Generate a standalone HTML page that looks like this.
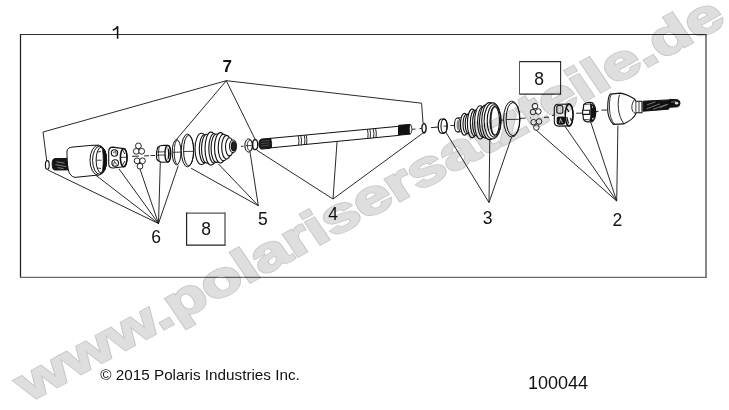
<!DOCTYPE html>
<html><head><meta charset="utf-8">
<style>
html,body{margin:0;padding:0;background:#fff;width:729px;height:410px;overflow:hidden}
svg{display:block}
text{font-family:"Liberation Sans",sans-serif}
</style></head>
<body>
<svg width="729" height="410" viewBox="0 0 729 410">
<!-- watermark -->

<!-- frame -->
<path d="M20,34.5 L706.5,34.5" stroke="#2e2e2e" stroke-width="1.15" fill="none"/>
<path d="M20.5,34 L20.5,277.8" stroke="#1e1e1e" stroke-width="1.25" fill="none"/>
<path d="M706,34 L706,277.8" stroke="#606060" stroke-width="1.5" fill="none"/>
<path d="M20,277.3 L706.7,277.3" stroke="#6a6a6a" stroke-width="1.3" fill="none"/>
<!-- labels -->
<g font-size="17.5" fill="#111">
<path d="M117.6,38.8 L117.6,26.3 C116.6,28.3 114.8,29.6 112.8,30.3" fill="none" stroke="#111" stroke-width="1.55"/>
<text x="222.5" y="72" font-weight="bold" font-size="17">7</text>
<text x="151.3" y="242.6">6</text>
<text x="258" y="225">5</text>
<text x="328.3" y="219.6">4</text>
<text x="482.8" y="223.8">3</text>
<text x="612.5" y="226.3">2</text>
<text x="201.2" y="235">8</text>
<text x="534.3" y="84.6">8</text>
</g>
<path d="M186.6,213.2 L225,213.2" stroke="#555" stroke-width="1.2" fill="none"/><path d="M186.6,212.6 L186.6,245.2 L225.4,245.2" stroke="#222" stroke-width="1.2" fill="none"/><path d="M225,212.6 L225,245.6" stroke="#444" stroke-width="1.2" fill="none"/>
<path d="M519.5,61.6 L560.6,61.6 L560.6,94.1 L519.5,94.1" stroke="#2a2a2a" stroke-width="1.1" fill="none"/><path d="M519.5,61.2 L519.5,94.5" stroke="#555" stroke-width="1" fill="none"/>
<text x="100.3" y="379.8" font-size="14.8" textLength="199.5" lengthAdjust="spacingAndGlyphs" fill="#111">© 2015 Polaris Industries Inc.</text>
<text x="528" y="389.1" font-size="18" fill="#111">100044</text>

<!-- leader lines -->
<g fill="none" stroke="#111" stroke-width="0.9">
<polyline points="46.7,160.3 43,132 226.3,80.7 421.6,103.2 423,123"/>
<line x1="226.3" y1="80.7" x2="176.4" y2="139.5"/>
<line x1="226.3" y1="80.7" x2="255.7" y2="140.5"/>
<!-- 6 -->
<line x1="158.5" y1="223.5" x2="47.7" y2="169.9"/>
<line x1="158.5" y1="223.5" x2="96" y2="175.4"/>
<line x1="158.5" y1="223.5" x2="119" y2="168.8"/>
<line x1="158.5" y1="223.5" x2="139.9" y2="168.8"/>
<line x1="158.5" y1="223.5" x2="160.3" y2="162.2"/>
<line x1="158.5" y1="223.5" x2="178.3" y2="165.5"/>
<!-- 5 -->
<line x1="258.3" y1="205.7" x2="191.1" y2="168.2"/>
<line x1="258.3" y1="205.7" x2="218.4" y2="163.9"/>
<line x1="258.3" y1="205.7" x2="250" y2="152"/>
<!-- 4 -->
<line x1="333" y1="199" x2="256.8" y2="150.2"/>
<line x1="333" y1="199" x2="337.1" y2="141"/>
<line x1="333" y1="199" x2="424.4" y2="132"/>
<!-- 3 -->
<line x1="489" y1="202.5" x2="445.1" y2="131"/>
<line x1="489" y1="202.5" x2="489.8" y2="139.2"/>
<line x1="489" y1="202.5" x2="512.3" y2="135.1"/>
<!-- 2 -->
<line x1="616.7" y1="201" x2="535.6" y2="129.6"/>
<line x1="616.7" y1="201" x2="564.4" y2="125.5"/>
<line x1="616.7" y1="201" x2="590.5" y2="121.4"/>
<line x1="616.7" y1="201" x2="617.9" y2="125.5"/>
</g>

<!-- PARTS -->
<g id="parts" fill="#fff" stroke="#111" stroke-width="1" stroke-linejoin="round">
<!-- centre dashes -->
<g stroke-width="0.9" fill="none">
<path d="M132,156.3 L139,156.1 M144,155.9 L149,155.7 M150.5,155.6 L155,155.5"/>
<path d="M241,146.4 L243.5,146.2"/>
<path d="M411.5,129.3 L415.5,129.1 M419.5,128.6 L421.5,128.5 M431,127.6 L435.5,127.3 M435,127.2 L439,127.1"/>
<path d="M450.4,125.6 L454.5,125.4"/>
<path d="M501,120.2 L504,120 M520,118.4 L525.5,118.1 M530,117.9 L531,117.9 M544,117.4 L549,117.2 M552,115.3 L554.5,115.2"/>
<path d="M576.1,113.3 L582,113.1 M596,111.5 L598.5,111.3 M601.5,110.2 L607.5,110"/>
</g>

<!-- left circlip -->
<ellipse cx="47.3" cy="164.9" rx="1.9" ry="4.3" stroke-width="1.1"/>
<!-- stub shaft -->
<path d="M54.5,158.6 L68.3,158.4 L68.3,169.9 L54.5,170 Q52.2,169.6 52.2,164.3 Q52.2,159 54.5,158.6 Z" fill="#151515"/>
<path d="M56.5,161.8 L64.5,163.2 M55.5,164.6 L66,166.6 M57.5,167.6 L63.5,168.6" stroke="#9a9a9a" stroke-width="0.8" fill="none"/>
<!-- housing left -->
<path d="M68.3,170 C67.3,164 66.9,157 67,151 C67.6,148.4 69.3,147.5 72,147.1 L92,145.3 L98.3,145.2 L98.3,175.2 L96.5,175.2 L75,177.4 C71.5,176.8 69.3,174 68.3,170 Z"/>
<ellipse cx="98.3" cy="160.2" rx="8.3" ry="15"/>
<ellipse cx="99.6" cy="160.2" rx="7" ry="14"/>
<ellipse cx="101.3" cy="160.1" rx="5.2" ry="13"/>
<path d="M101.3,147.1 A5.2,13 0 0 1 101.3,173.1 A1.8,12 0 0 0 101.3,147.1 Z" fill="#111" stroke-width="0.8"/>
<path d="M96.3,160.2 L101.5,160.2 M97.5,152 L101,151.5 M97.5,168 L101,168.5" fill="none" stroke-width="0.8"/>

<!-- cage left -->
<path d="M108.7,151.5 Q108.7,147.1 113,147.1 L123.7,148.6 A3.3,9.1 0 0 1 123.7,166.8 L113,168 Q108.7,168 108.7,163.5 Z" stroke-width="1.1"/>
<ellipse cx="123.7" cy="157.7" rx="3.3" ry="9.1" stroke-width="1.6"/>
<path d="M120.6,157.4 L127,157.2 M122.6,150 L124.8,154 M122.6,165 L124.8,161" fill="none" stroke-width="0.8"/>
<circle cx="114.5" cy="153" r="3.2" stroke-width="1.1"/>
<circle cx="115.2" cy="163.1" r="3.3" stroke-width="1.1"/>
<path d="M113,152.5 L116,151.5 L116,154.5 M113.5,164.5 L114.5,161.5 L116.5,164.5" fill="none" stroke-width="0.8"/>

<!-- balls left -->
<g stroke-width="0.9">
<circle cx="138.4" cy="145.9" r="2.9"/>
<circle cx="136.3" cy="151.3" r="2.9"/>
<circle cx="141.7" cy="151.3" r="2.9"/>
<circle cx="137.1" cy="160.8" r="2.9"/>
<circle cx="142.5" cy="160.8" r="2.9"/>
<circle cx="140" cy="166.2" r="2.9"/>
</g>

<!-- nut left -->
<path d="M157.6,147.5 Q160,145.3 163.5,145.3 L167.8,145.4 A2.8,8.3 0 0 1 167.8,162 L162.5,162.2 Q158.5,162 156.7,159 Q155.6,153.5 157.6,147.5 Z" stroke-width="1.1"/>
<ellipse cx="167.8" cy="153.7" rx="2.8" ry="8.3" fill="#fff" stroke-width="1.3"/>
<path d="M167.5,147 Q170,150 169.8,154 Q169.5,158.5 167.5,160.5 Q168.6,154 167.5,147 Z" fill="#111" stroke="none"/>
<path d="M156.4,152 L165.5,151.8 M156.4,155.2 L165.5,155 M159.2,146.2 Q157.6,153.5 159.2,161.6" fill="none" stroke-width="0.8"/>

<!-- thin ring left -->
<ellipse cx="176.6" cy="152.2" rx="4.4" ry="12.6"/>
<path d="M177.6,139.8 A3.4,12.4 0 0 0 177.6,164.6" fill="none" stroke-width="0.9"/>
<path d="M172.6,152.3 L181,152.1" fill="none" stroke-width="0.8"/>
<!-- clamp ring left -->
<ellipse cx="187.5" cy="150.5" rx="6.2" ry="16.4"/>
<ellipse cx="188.6" cy="150.5" rx="5" ry="15.2" fill="none"/>
<path d="M183.7,151.5 L193.6,151.3" fill="none" stroke-width="0.8"/>

<!-- boot left -->
<g stroke-width="1.1">
<ellipse cx="201.5" cy="148.9" rx="6.5" ry="15.6"/>
<ellipse cx="204.5" cy="148.8" rx="5.2" ry="14"/>
<ellipse cx="207" cy="148.7" rx="5.5" ry="14.4"/>
<ellipse cx="211" cy="148.6" rx="6" ry="16.5"/>
<ellipse cx="214" cy="148.4" rx="5.2" ry="14.6"/>
<ellipse cx="216.5" cy="148.2" rx="5.4" ry="14.2"/>
<ellipse cx="220.5" cy="147.8" rx="6" ry="15.2"/>
<ellipse cx="223.5" cy="147.5" rx="5.3" ry="13.3"/>
<ellipse cx="226.5" cy="147.2" rx="4.8" ry="11.8"/>
<ellipse cx="229.5" cy="146.8" rx="4" ry="9"/>
<ellipse cx="233" cy="146.3" rx="3.4" ry="6.3"/>
<ellipse cx="233.6" cy="146.3" rx="2.2" ry="4.6" fill="#222"/>
</g>
<!-- washer left -->
<ellipse cx="248.7" cy="145.5" rx="3.9" ry="6.6"/>
<ellipse cx="249.8" cy="145.5" rx="2.5" ry="5.3" fill="none" stroke-width="0.8"/>
<path d="M245.5,145.7 L252.3,145.6" fill="none" stroke-width="0.8"/>
<!-- circlip left -->
<ellipse cx="255.2" cy="144.7" rx="2.5" ry="5" fill="none" stroke-width="1.3"/>

<!-- shaft -->
<path d="M270.1,138.4 L398.7,126.3 L398.7,135.4 L271.3,147.8 Z"/>
<path d="M261.5,139.1 L270.6,138.3 L270.6,148.2 L261.5,149.1 Q259,148.8 259,144.1 Q259,139.4 261.5,139.1 Z" fill="#1a1a1a"/>
<path d="M261,141.2 L269.5,140.4 M261,143.6 L269.5,142.8 M261,146 L269.5,145.2" fill="none" stroke="#666" stroke-width="0.6"/>
<path d="M270.6,138.3 Q272.3,143 271.4,147.9" fill="none" stroke-width="0.9"/>
<path d="M298.2,135.8 Q299.5,140 298.6,145 M300.8,135.6 Q302,140 301.2,144.8 M304.2,135.3 Q305.4,139.5 304.6,144.4 M306.2,135.1 Q307.4,139.3 306.6,144.2" fill="none" stroke-width="0.9"/>
<path d="M367.4,129.3 Q368.6,133.5 367.8,138.4 M369.8,129.1 Q371,133.3 370.2,138.2 M373.2,128.8 Q374.4,133 373.6,137.9 M375.6,128.6 Q376.8,132.8 376,137.6" fill="none" stroke-width="0.9"/>
<path d="M398.7,125.3 L410.2,124.4 Q412.2,129.2 410.4,134.1 L398.7,135.2 Z" fill="#111"/>
<ellipse cx="410.6" cy="129.2" rx="1.3" ry="4.3" fill="#fff" stroke-width="0.8"/>

<!-- circlip right -->
<path d="M424,123.3 C421,125 421.3,131.5 424,133.2 C426.5,132 427.2,125 424,123.3 Z" fill="none" stroke-width="1.3"/>

<!-- washer right -->
<path d="M441.5,119 L444,119 A3.3,7.1 0 0 1 444,133.2 L441.5,133.3 A3.3,7.15 0 0 1 441.5,119 Z" stroke-width="1.2"/>
<ellipse cx="444" cy="126.1" rx="3" ry="7" fill="none" stroke-width="1.1"/>
<path d="M443.5,126.2 L447,126.1" fill="none" stroke-width="0.8"/>

<!-- boot right -->
<g stroke-width="1.1">
<path d="M457.5,118 L460.6,117.8 L460.6,131.8 L457.5,132 Z" stroke="none"/>
<path d="M457.5,118 L460.8,117.8 M457.5,132 L460.8,131.8" fill="none"/>
<ellipse cx="457.5" cy="125" rx="3" ry="7"/>
<ellipse cx="458.2" cy="125" rx="1.6" ry="5" fill="#888" stroke="none"/>
<ellipse cx="464.5" cy="124.2" rx="4" ry="11"/>
<ellipse cx="466.5" cy="124" rx="3.5" ry="9.8"/>
<ellipse cx="468.8" cy="123.8" rx="3.6" ry="10.2"/>
<ellipse cx="472.2" cy="123.4" rx="4.8" ry="14.3"/>
<ellipse cx="474.5" cy="123.1" rx="4.2" ry="12.8"/>
<ellipse cx="476.8" cy="122.9" rx="4.2" ry="13"/>
<ellipse cx="480.2" cy="122.4" rx="5.6" ry="16.6"/>
<ellipse cx="482.6" cy="122" rx="5" ry="15"/>
<ellipse cx="485.5" cy="121.6" rx="6" ry="16.5"/>
<ellipse cx="489.5" cy="121.1" rx="7.8" ry="18.5"/>
<ellipse cx="492.6" cy="120.9" rx="8.5" ry="18"/>
<ellipse cx="494" cy="120.9" rx="6.8" ry="16.2" fill="none"/>
<ellipse cx="494.8" cy="120.9" rx="4.7" ry="14.3"/>
<path d="M494.8,106.6 A4.7,14.3 0 0 0 494.8,135.2 A3.2,12.5 0 0 1 494.8,106.6 Z" fill="#333" stroke-width="0.6"/>
</g>

<!-- clamp ring right -->
<ellipse cx="511.8" cy="119.1" rx="8.2" ry="18"/>
<ellipse cx="512.9" cy="119.1" rx="6.8" ry="16.6" fill="none"/>
<path d="M506,119.5 L520,119.3" fill="none" stroke-width="0.8"/>

<!-- balls right -->
<g stroke-width="0.9">
<circle cx="535" cy="106.1" r="2.8"/>
<circle cx="533" cy="112" r="2.8"/>
<circle cx="538.3" cy="111.5" r="2.8"/>
<circle cx="533.6" cy="122.2" r="2.8"/>
<circle cx="539" cy="121.5" r="2.8"/>
<circle cx="536.3" cy="127.5" r="2.8"/>
</g>

<!-- cage right -->
<path d="M554.3,108.5 Q554.3,104.2 558.5,104.2 L569.1,104.1 A3.9,10.9 0 0 1 569.1,125.9 L558.5,126.1 Q554.3,126.1 554.3,121.5 Z" stroke-width="1.1"/>
<ellipse cx="569.1" cy="115" rx="3.9" ry="10.9" stroke-width="1.6"/>
<path d="M566.5,108 L569,112 M566.8,117 L568.5,123.5 M570.5,118 L571.5,121" fill="none" stroke-width="1.2"/>
<rect x="556.8" y="105.6" width="6" height="7.6" rx="1.5" stroke-width="1.1"/>
<rect x="557.2" y="117.1" width="7.4" height="7" rx="1.5" fill="#111" stroke-width="1.1"/>
<path d="M558.5,107.5 L558.5,111.5 M561,107 L560.5,112 M559.5,123 L560.5,118.5 L562.5,123" fill="none" stroke="#ccc" stroke-width="0.8"/>

<!-- nut right -->
<path d="M583.8,104.5 Q585.5,102.5 588.5,102.4 L592,102.5 Q595.5,105 595.7,112 Q595.5,119 592.5,121.6 L587.5,121.8 Q584.5,121.6 583.3,118.8 Q582.3,111.5 583.8,104.5 Z" stroke-width="1.2"/>
<path d="M590,103.5 Q593.5,104 595,108 L595.8,112 Q595.6,118 592.5,121 L589.8,121 Q591.2,116 590.8,112 Q591,107 590,103.5 Z" fill="#111" stroke-width="0.8"/>
<path d="M591.8,105 L593,107.5 L592.2,108.2 Z M592,118.5 L593.8,117.5 L593,120 Z" fill="#fff" stroke="none"/>
<rect x="582.6" y="110.3" width="7.2" height="4.1" stroke-width="1.1"/>
<path d="M584.5,104.5 L589.5,104 M584.5,119.5 L589.5,119.8" fill="none" stroke-width="0.8"/>

<!-- housing right -->
<path d="M610.2,94.1 L620.5,93.1 C625,94 631,96.5 634.8,99.3 L635.9,101.3 L642,101.2 L642,112.6 L635.9,112.7 L635.9,113.6 C634.5,117 630,121 623.6,123.9 L613.3,124.4 C609.5,120 607.5,114 607.7,108.5 C607.7,101 608.5,96 610.2,94.1 Z" stroke-width="1.1"/>
<path d="M611.2,94.5 C609.5,98 609.3,104 609.5,109 C609.7,115 611.5,121 614.5,124.2" fill="none" stroke-width="0.8"/>
<path d="M619.5,94.7 C617.3,102 617.3,115 624,123.9" fill="none" stroke-width="0.9"/>
<path d="M634.8,99.3 C630.8,104 630.5,112 635.9,113.6" fill="none" stroke-width="0.9"/>
<path d="M635.9,101.3 L635.9,112.7 M639,101.2 L639,112.6" fill="none" stroke-width="0.8"/>
<!-- splined shaft right -->
<path d="M643.1,101.2 L668.5,99.9 L669.5,99.4 L677.5,99.7 Q680,100.3 680,103.2 Q679.8,106.2 677.5,106.8 L669.5,107.3 L668.5,109.2 L643.1,111.2 Z" fill="#111"/>
<path d="M646.5,108.8 L660,103.8 M653,109.3 L666.5,104.6 M647,104.8 L655.5,101.9 M660,107.6 L668,104.2 M671,102.2 L676,101.5" fill="none" stroke="#8a8a8a" stroke-width="0.8"/>
<ellipse cx="676.6" cy="103.2" rx="1.7" ry="1.4" fill="#ddd" stroke="none"/>
</g>

<g id="wm" style="mix-blend-mode:multiply" transform="matrix(0.89599,-0.48605,0.43435,0.64214,29.08,402.31)" font-size="64" font-weight="bold">
<text x="0" y="0" fill="#c9c9c9" stroke="#c8c8c8" stroke-width="3.4" stroke-linejoin="miter">www.polarisersatzteile.de</text>
<text x="0" y="0" fill="#dedede" stroke="#dedede" stroke-width="1.3" stroke-linejoin="miter">www.polarisersatzteile.de</text>
</g>
</svg>
</body></html>
